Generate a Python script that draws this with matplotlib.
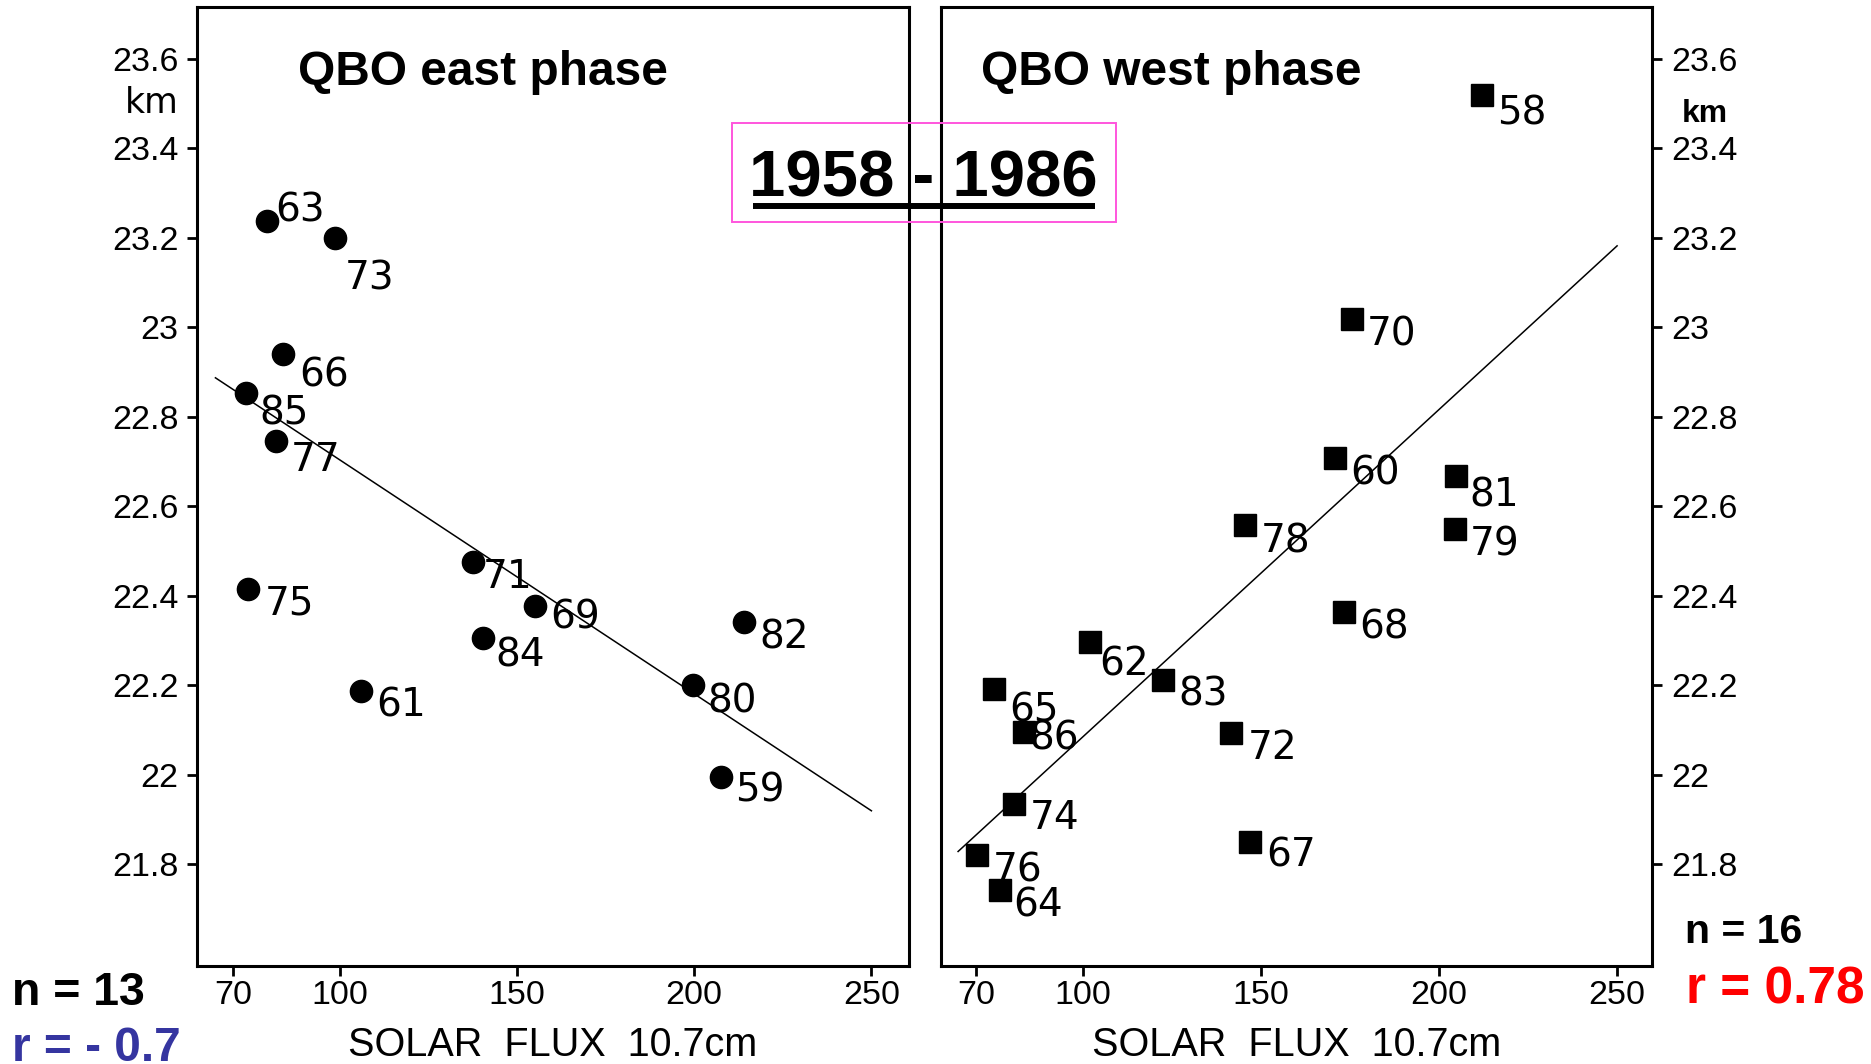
import matplotlib
matplotlib.use("Agg")
import matplotlib.pyplot as plt
from matplotlib.lines import Line2D
from matplotlib.patches import Rectangle

plt.rcParams["font.family"] = ["Liberation Sans", "DejaVu Sans"]

# ---- data: tropopause-level height (km) vs 10.7 cm solar flux, 1958-1986 ----
# QBO east phase (circles)
east_years = ["63", "73", "66", "85", "77", "75", "71", "69", "84", "61", "82", "80", "59"]
east_flux = [79.5, 98.8, 84.0, 73.5, 82.2, 74.1, 137.5, 155.2, 140.5, 106.1, 214.1, 199.8, 207.7]
east_height = [23.237, 23.200, 22.940, 22.852, 22.745, 22.415, 22.475, 22.377, 22.305,
               22.187, 22.342, 22.200, 21.994]

# QBO west phase (squares)
west_years = ["58", "70", "60", "81", "78", "79", "68", "62", "83", "65", "86", "72",
              "74", "67", "76", "64"]
west_flux = [212.2, 175.6, 170.9, 204.7, 145.5, 204.4, 173.2, 102.1, 122.5, 75.1, 83.6,
             141.6, 80.8, 147.0, 70.2, 76.8]
west_height = [23.520, 23.019, 22.707, 22.667, 22.557, 22.548, 22.364, 22.296, 22.212,
               22.192, 22.096, 22.094, 21.935, 21.850, 21.820, 21.742]

# regression lines (end points)
fit_flux = [65.0, 250.0]
east_fit = [22.887, 21.919]
west_fit = [21.828, 23.182]

x_ticks = [70, 100, 150, 200, 250]
y_ticks = [21.8, 22.0, 22.2, 22.4, 22.6, 22.8, 23.0, 23.2, 23.4, 23.6]
y_tick_labels = ["21.8", "22", "22.2", "22.4", "22.6", "22.8", "23", "23.2", "23.4", "23.6"]

stats_east = ("n = 13", "r = - 0.7")
stats_west = ("n = 16", "r = 0.78")

# label offsets in pixels (dx right, dy down) relative to each marker
east_offsets = {"63": (8, 0), "73": (9, 22), "66": (16, 2), "85": (14, 1), "77": (14, 0),
                "75": (17, -4), "71": (10, -4.5), "69": (15, -7), "84": (12, -2),
                "61": (15, -4), "82": (15, -3), "80": (14, -3), "59": (14, -6)}
west_offsets = {"58": (15, 0), "70": (15, -3), "60": (15, -3.5), "81": (14, 0),
                "78": (16, -3), "79": (15.5, -4), "68": (16, -3.5), "62": (8.5, 3),
                "83": (15.5, -4.5), "65": (15.5, 3), "86": (5, -12), "72": (17, -3.6),
                "74": (15, -4.7), "67": (16, -5), "76": (16, -3.5), "64": (13.5, -3.5)}

W, H = 1871, 1064
PX = 72.0 / 100.0  # points per pixel at 100 dpi

fig = plt.figure(figsize=(W / 100, H / 100), dpi=100)
fig.patch.set_facecolor("white")

ax_e = fig.add_axes([197 / W, 98 / H, 712 / W, 959 / H])
ax_w = fig.add_axes([941 / W, 98 / H, 711 / W, 959 / H])

for ax in (ax_e, ax_w):
    ax.set_ylim(21.572, 23.716)
    ax.set_xticks(x_ticks)
    ax.set_xticklabels([str(t) for t in x_ticks])
    ax.set_yticks(y_ticks)
    ax.set_yticklabels(y_tick_labels)
    for sp in ax.spines.values():
        sp.set_linewidth(2.2)
        sp.set_color("black")
    ax.tick_params(axis="both", direction="out", length=7.2, width=2.0,
                   labelsize=24.5, colors="black")
    ax.tick_params(axis="x", pad=3)
    ax.set_xlabel("SOLAR  FLUX  10.7cm", fontsize=28.5)
    ax.xaxis.label.set_va("baseline")
    ax.xaxis.set_label_coords(0.5, (966 - 1056) / 959)

ax_e.set_xlim(59.8, 260.6)
ax_w.set_xlim(60.2, 259.8)

ax_e.tick_params(axis="y", pad=6)
ax_w.yaxis.tick_right()
ax_w.tick_params(axis="y", left=False, right=True, labelleft=False, labelright=True, pad=6.5)

# regression lines
ax_e.plot(fit_flux, east_fit, color="black", lw=1.1, zorder=2)
ax_w.plot(fit_flux, west_fit, color="black", lw=1.1, zorder=2)

# markers
ax_e.plot(east_flux, east_height, linestyle="none", marker="o", markersize=16,
          color="black", zorder=3)
ax_w.plot(west_flux, west_height, linestyle="none", marker="s", markersize=15.3,
          color="black", zorder=3)

# year labels
for yr, x, y in zip(east_years, east_flux, east_height):
    dx, dy = east_offsets[yr]
    va = "baseline" if yr == "63" else "top"
    ax_e.annotate(yr, (x, y), xytext=(dx * PX, -dy * PX), textcoords="offset points",
                  ha="left", va=va, fontsize=28, family="DejaVu Sans", zorder=4)
for yr, x, y in zip(west_years, west_flux, west_height):
    dx, dy = west_offsets[yr]
    ax_w.annotate(yr, (x, y), xytext=(dx * PX, -dy * PX), textcoords="offset points",
                  ha="left", va="top", fontsize=28, family="DejaVu Sans", zorder=4)

# panel titles
ax_e.text(0.1419, 0.9187, "QBO east phase", transform=ax_e.transAxes, fontsize=34.5,
          fontweight="bold", ha="left", va="baseline")
ax_w.text(0.0556, 0.9187, "QBO west phase", transform=ax_w.transAxes, fontsize=34.5,
          fontweight="bold", ha="left", va="baseline")

# unit labels
fig.text(179 / W, 1 - 113 / H, "km", fontsize=25, family="DejaVu Sans",
         ha="right", va="baseline")
fig.text(1682 / W, 1 - 122 / H, "km", fontsize=23, fontweight="bold",
         ha="left", va="baseline")

# period label with underline and magenta frame
fig.text(923.5 / W, 1 - 196.7 / H, "1958 - 1986", fontsize=47, fontweight="bold",
         ha="center", va="baseline")
fig.add_artist(Line2D([753 / W, 1094.6 / W], [1 - 206 / H, 1 - 206 / H],
                      transform=fig.transFigure, color="black", lw=4.3,
                      solid_capstyle="butt"))
fig.add_artist(Rectangle((732 / W, 1 - 221.7 / H), 384 / W, 99 / H,
                         transform=fig.transFigure, fill=False,
                         edgecolor="#ff55dd", lw=1.4))

# sample size and correlation
fig.text(12 / W, 1 - 1005 / H, stats_east[0], fontsize=33.5, fontweight="bold",
         color="black", ha="left", va="baseline")
fig.text(12 / W, 1 - 1061 / H, stats_east[1], fontsize=34.5, fontweight="bold",
         color="#3535a0", ha="left", va="baseline")
fig.text(1685 / W, 1 - 943 / H, stats_west[0], fontsize=29.5, fontweight="bold",
         color="black", ha="left", va="baseline")
fig.text(1686 / W, 1 - 1003 / H, stats_west[1], fontsize=37, fontweight="bold",
         color="#ff0000", ha="left", va="baseline")

fig.savefig("out.png", dpi=100, facecolor="white")
